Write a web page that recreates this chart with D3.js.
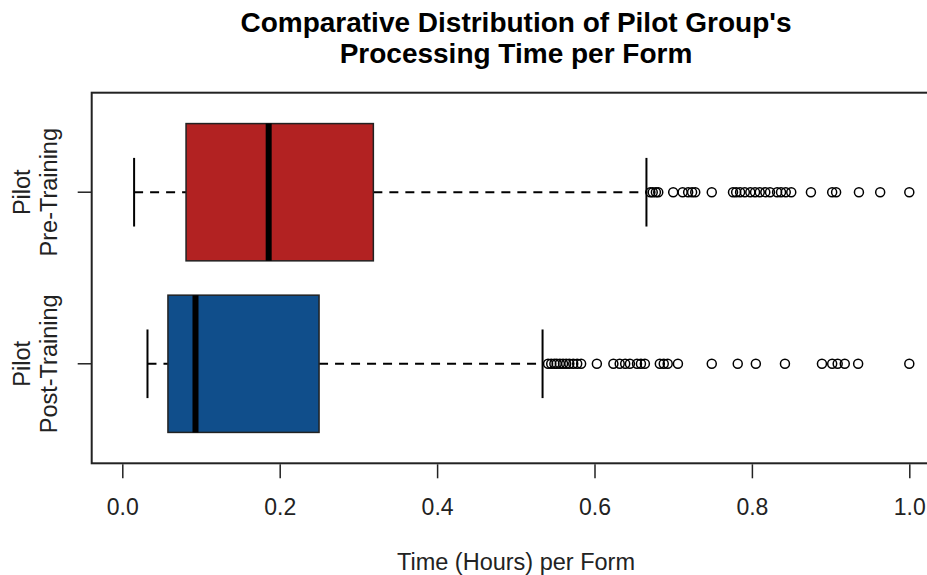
<!DOCTYPE html>
<html>
<head>
<meta charset="utf-8">
<script src="https://cdn.jsdelivr.net/npm/d3@7"></script>
<style>
  body { margin: 0; background: #fff; }
  svg { display: block; font-family: "Liberation Sans", Arial, sans-serif; }
</style>
</head>
<body>
<div id="chart"></div>
<script>
// groups, top to bottom in the plot
var groups = ['Pre-Training', 'Post-Training'];
var groupPos = [2, 1];
var fills = ['#B22222', '#104E8B'];

// five number summaries (hours per form)
var whiskerLow  = [0.015, 0.032];
var lowerQ      = [0.081, 0.058];
var medians     = [0.186, 0.093];
var upperQ      = [0.319, 0.250];
var whiskerHigh = [0.666, 0.534];

var outliersPre = [0.671, 0.674, 0.678, 0.681, 0.700, 0.712, 0.719, 0.724, 0.728,
  0.749, 0.776, 0.780, 0.785, 0.791, 0.798, 0.804, 0.810, 0.817, 0.823, 0.832,
  0.837, 0.843, 0.850, 0.875, 0.902, 0.907, 0.936, 0.963, 1.000];
var outliersPost = [0.541, 0.545, 0.549, 0.552, 0.556, 0.560, 0.564, 0.568, 0.573,
  0.578, 0.583, 0.603, 0.624, 0.632, 0.639, 0.645, 0.654, 0.659, 0.664, 0.683,
  0.688, 0.693, 0.706, 0.749, 0.782, 0.805, 0.842, 0.889, 0.902, 0.909, 0.918,
  0.935, 1.000];
var outliers = [outliersPre, outliersPost];

var xTicks = [0, 0.2, 0.4, 0.6, 0.8, 1.0];

var W = 927, H = 575;
var plot = {left: 91.7, top: 92.7, bottom: 463.3, right: 941};

var svg = d3.select('#chart').append('svg')
    .attr('width', W).attr('height', H);

var x = d3.scaleLinear().domain([0, 1]).range([122.3, 909.3]);
var y = d3.scaleLinear().domain([0.42, 2.58]).range([plot.bottom, plot.top]);
var boxHalf = 0.4, capHalf = 0.2;

// title
var title = svg.append('text')
    .attr('text-anchor', 'middle')
    .attr('font-size', 28).attr('font-weight', 'bold').attr('fill', '#000');
title.append('tspan').attr('x', 516).attr('y', 32).text("Comparative Distribution of Pilot Group's");
title.append('tspan').attr('x', 516).attr('y', 63).text('Processing Time per Form');

var g = svg.append('g');

groups.forEach(function(name, i){
    var cy = y(groupPos[i]);
    var dash = '9,7';
    // whiskers
    g.append('line')
        .attr('x1', x(whiskerLow[i])).attr('x2', x(lowerQ[i]))
        .attr('y1', cy).attr('y2', cy)
        .attr('stroke', '#000').attr('stroke-width', 2).attr('stroke-dasharray', dash);
    g.append('line')
        .attr('x1', x(upperQ[i])).attr('x2', x(whiskerHigh[i]))
        .attr('y1', cy).attr('y2', cy)
        .attr('stroke', '#000').attr('stroke-width', 2).attr('stroke-dasharray', dash);
    // staples
    [whiskerLow[i], whiskerHigh[i]].forEach(function(v){
        g.append('line')
            .attr('x1', x(v)).attr('x2', x(v))
            .attr('y1', y(groupPos[i] + capHalf)).attr('y2', y(groupPos[i] - capHalf))
            .attr('stroke', '#000').attr('stroke-width', 2);
    });
    // box
    g.append('rect')
        .attr('x', x(lowerQ[i]))
        .attr('y', y(groupPos[i] + boxHalf))
        .attr('width', x(upperQ[i]) - x(lowerQ[i]))
        .attr('height', y(groupPos[i] - boxHalf) - y(groupPos[i] + boxHalf))
        .attr('fill', fills[i]).attr('stroke', '#222').attr('stroke-width', 1.5);
    // median
    g.append('line')
        .attr('x1', x(medians[i])).attr('x2', x(medians[i]))
        .attr('y1', y(groupPos[i] + boxHalf)).attr('y2', y(groupPos[i] - boxHalf))
        .attr('stroke', '#000').attr('stroke-width', 6);
    // outliers
    g.selectAll(null).data(outliers[i]).enter().append('circle')
        .attr('cx', function(d){ return x(d); })
        .attr('cy', cy)
        .attr('r', 4.5)
        .attr('fill', 'none').attr('stroke', '#000').attr('stroke-width', 1.5);
});

// frame
svg.append('rect')
    .attr('x', plot.left).attr('y', plot.top)
    .attr('width', plot.right - plot.left).attr('height', plot.bottom - plot.top)
    .attr('fill', 'none').attr('stroke', '#222').attr('stroke-width', 2);

// x axis
var xAxis = d3.axisBottom(x).tickValues(xTicks).tickSize(14).tickPadding(20)
    .tickFormat(d3.format('.1f'));
var xg = svg.append('g').attr('transform', 'translate(0,' + (plot.bottom + 1) + ')').call(xAxis);
xg.select('.domain').remove();
xg.selectAll('.tick line').attr('stroke', '#222').attr('stroke-width', 1.5);
xg.selectAll('.tick text').attr('font-size', 23).attr('fill', '#222')
    .attr('font-family', '"Liberation Sans", Arial, sans-serif');

svg.append('text')
    .attr('x', 516).attr('y', 570)
    .attr('text-anchor', 'middle').attr('font-size', 23.5).attr('fill', '#222')
    .text('Time (Hours) per Form');

// y ticks and group labels
groups.forEach(function(name, i){
    var cy = y(groupPos[i]);
    svg.append('line')
        .attr('x1', plot.left - 14).attr('x2', plot.left)
        .attr('y1', cy).attr('y2', cy)
        .attr('stroke', '#222').attr('stroke-width', 1.5);
    var t = svg.append('text')
        .attr('transform', 'translate(0,' + cy + ') rotate(-90)')
        .attr('text-anchor', 'middle').attr('font-size', 23.5).attr('fill', '#222');
    t.append('tspan').attr('x', 0).attr('y', 30).text('Pilot');
    t.append('tspan').attr('x', 0).attr('y', 57).text(name);
});
</script>
</body>
</html>
